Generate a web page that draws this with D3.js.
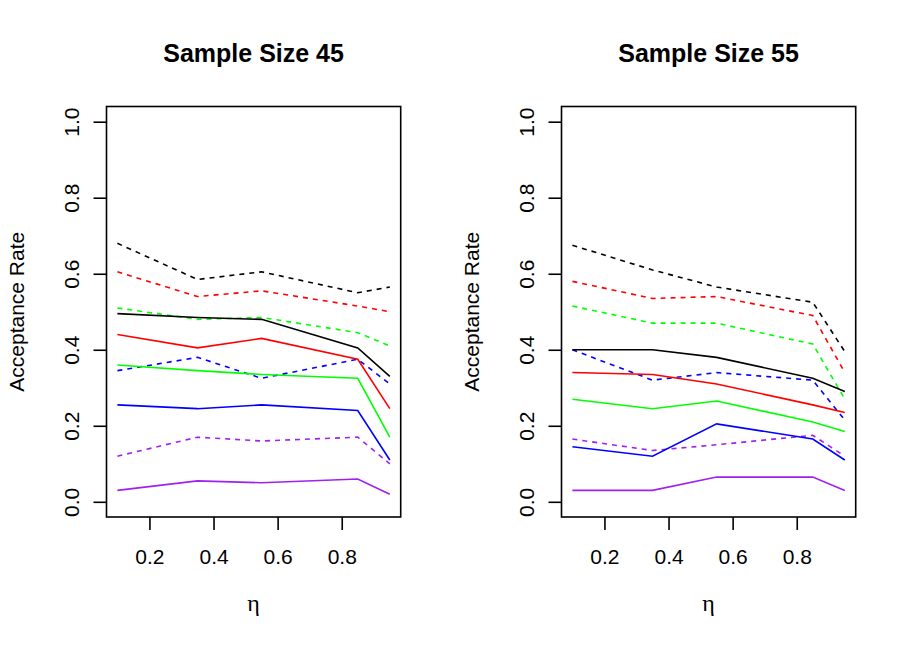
<!DOCTYPE html>
<html>
<head>
<meta charset="utf-8">
<script src="https://cdn.jsdelivr.net/npm/d3@7"></script>
<style>
  body { margin: 0; background: #fff; }
  svg { display: block; font-family: "Liberation Sans", Arial, sans-serif; }
</style>
</head>
<body>
<div id="chart"></div>
<script>
const etaValues = [0.1, 0.35, 0.55, 0.85, 0.95];
const lineColors = ["#000000", "#ff0000", "#00ff00", "#0000ff", "#a020f0"];
const xTicks = [0.2, 0.4, 0.6, 0.8];
const yTicks = [0.0, 0.2, 0.4, 0.6, 0.8, 1.0];
const panelTitles = ["Sample Size 45", "Sample Size 55"];

// sample size 45: solid and dashed series (black, red, green, blue, purple)
const n45Solid = [
    [0.495, 0.485, 0.48, 0.405, 0.33],
    [0.44, 0.405, 0.43, 0.375, 0.245],
    [0.36, 0.345, 0.335, 0.325, 0.17],
    [0.255, 0.245, 0.255, 0.24, 0.11],
    [0.03, 0.055, 0.05, 0.06, 0.02]
];
const n45Dashed = [
    [0.68, 0.585, 0.605, 0.55, 0.565],
    [0.605, 0.54, 0.555, 0.515, 0.50],
    [0.51, 0.48, 0.485, 0.445, 0.41],
    [0.345, 0.38, 0.325, 0.375, 0.31],
    [0.12, 0.17, 0.16, 0.17, 0.10]
];

// sample size 55
const n55Solid = [
    [0.40, 0.40, 0.38, 0.325, 0.29],
    [0.34, 0.335, 0.31, 0.255, 0.235],
    [0.27, 0.245, 0.265, 0.21, 0.185],
    [0.145, 0.12, 0.205, 0.165, 0.11],
    [0.03, 0.03, 0.065, 0.065, 0.03]
];
const n55Dashed = [
    [0.675, 0.61, 0.565, 0.525, 0.395],
    [0.58, 0.535, 0.54, 0.49, 0.34],
    [0.515, 0.47, 0.47, 0.415, 0.27],
    [0.40, 0.32, 0.34, 0.32, 0.215],
    [0.165, 0.135, 0.15, 0.175, 0.12]
];

const W = 910, H = 650;
const box = { left: 106.5, right: 400.7, top: 106.5, bottom: 517 };
const panelShift = 455;

const svg = d3.select("#chart").append("svg")
    .attr("width", W)
    .attr("height", H);

function drawPanel(idx, solid, dashed) {
    const g = svg.append("g")
        .attr("transform", `translate(${idx * panelShift},0)`);

    // R style 4% padding on each side
    const xr = d3.extent(etaValues);
    const xpad = (xr[1] - xr[0]) * 0.04;
    const x = d3.scaleLinear()
        .domain([xr[0] - xpad, xr[1] + xpad])
        .range([box.left, box.right]);
    const y = d3.scaleLinear()
        .domain([-0.04, 1.04])
        .range([box.bottom, box.top]);

    const line = d3.line()
        .x((d, i) => x(etaValues[i]))
        .y(d => y(d));

    dashed.forEach((vals, k) => {
        g.append("path")
            .datum(vals)
            .attr("fill", "none")
            .attr("stroke", lineColors[k])
            .attr("stroke-width", 1.6)
            .attr("stroke-dasharray", "5,5")
            .attr("d", line);
    });
    solid.forEach((vals, k) => {
        g.append("path")
            .datum(vals)
            .attr("fill", "none")
            .attr("stroke", lineColors[k])
            .attr("stroke-width", 1.6)
            .attr("d", line);
    });

    // box
    g.append("rect")
        .attr("x", box.left)
        .attr("y", box.top)
        .attr("width", box.right - box.left)
        .attr("height", box.bottom - box.top)
        .attr("fill", "none")
        .attr("stroke", "#000")
        .attr("stroke-width", 1.6);

    const xAxis = g.append("g")
        .attr("transform", `translate(0,${box.bottom})`)
        .call(d3.axisBottom(x).tickValues(xTicks).tickSize(13).tickFormat(d3.format(".1f")));
    xAxis.select(".domain").remove();
    xAxis.selectAll(".tick line").attr("stroke-width", 1.6);
    xAxis.selectAll("text")
        .attr("y", 47)
        .attr("dy", null)
        .attr("fill", "#000")
        .style("font-size", "21px")
        .style("font-family", "Liberation Sans, Arial, sans-serif");

    const yAxis = g.append("g")
        .attr("transform", `translate(${box.left},0)`)
        .call(d3.axisLeft(y).tickValues(yTicks).tickSize(13).tickFormat(d3.format(".1f")));
    yAxis.select(".domain").remove();
    yAxis.selectAll(".tick line").attr("stroke-width", 1.6);
    yAxis.selectAll("text")
        .attr("transform", "rotate(-90)")
        .attr("x", 0)
        .attr("y", -27.5)
        .attr("dy", null)
        .attr("text-anchor", "middle")
        .attr("fill", "#000")
        .style("font-size", "21px")
        .style("font-family", "Liberation Sans, Arial, sans-serif");

    const cx = (box.left + box.right) / 2;
    const cy = (box.top + box.bottom) / 2;

    g.append("text")
        .attr("x", cx)
        .attr("y", 62.3)
        .attr("text-anchor", "middle")
        .style("font-size", "25px")
        .style("font-weight", "bold")
        .text(panelTitles[idx]);

    g.append("text")
        .attr("x", cx)
        .attr("y", 611)
        .attr("text-anchor", "middle")
        .style("font-size", "24px")
        .style("font-family", "Liberation Serif, serif")
        .text("η");

    g.append("text")
        .attr("transform", `translate(24,${cy}) rotate(-90)`)
        .attr("text-anchor", "middle")
        .style("font-size", "21px")
        .text("Acceptance Rate");
}

drawPanel(0, n45Solid, n45Dashed);
drawPanel(1, n55Solid, n55Dashed);
</script>
</body>
</html>
